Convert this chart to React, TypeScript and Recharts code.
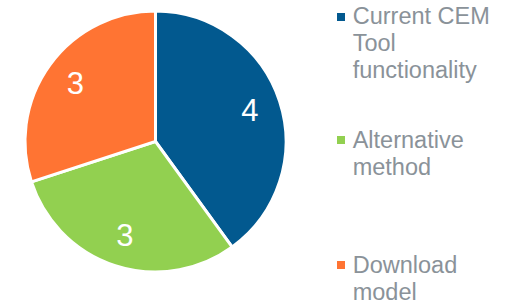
import { PieChart, Pie, Cell, Legend } from 'recharts'

const categories = ['Current CEM Tool functionality', 'Alternative method', 'Download model']
const counts = [4, 3, 3]
const colors = ['#02598F', '#92D050', '#FF7433']

const data = categories.map((name, i) => ({ name, value: counts[i] }))

const FONT = '"Liberation Sans", Arial, sans-serif'
const RADIAN = Math.PI / 180

const SliceLabel = (props: any) => {
  const { cx, cy, midAngle, outerRadius, value } = props
  const r = outerRadius * 0.76
  const x = cx + r * Math.cos(-midAngle * RADIAN)
  const y = cy + r * Math.sin(-midAngle * RADIAN)
  return (
    <text x={x} y={y} fill="#fff" fontSize={31} fontFamily={FONT} textAnchor="middle" dominantBaseline="central">
      {value}
    </text>
  )
}

// legend items sit at fixed tops like the original slide layout
const legendTops = [3.4, 126.7, 251.7]

const LegendContent = () => (
  <div style={{ position: 'relative', width: 180, height: 304 }}>
    {data.map((d, i) => (
      <div key={d.name} style={{ position: 'absolute', left: 0, top: legendTops[i], display: 'flex' }}>
        <div style={{ width: 8, height: 8, flex: 'none', background: colors[i], marginTop: 9.3, marginRight: 7.7 }} />
        <div style={{ width: 152, fontFamily: FONT, fontSize: 23.5, lineHeight: '27px', color: '#8A9299' }}>
          {d.name}
        </div>
      </div>
    ))}
  </div>
)

export default function App() {
  return (
    <div style={{ position: 'absolute', left: 0, top: 0, width: 508, height: 304, background: '#fff', overflow: 'hidden' }}>
      <PieChart width={508} height={304} margin={{ top: 0, right: 0, bottom: 0, left: 0 }}>
        <Pie
          data={data}
          dataKey="value"
          nameKey="name"
          cx={155.5}
          cy={141.5}
          outerRadius={130.5}
          startAngle={90}
          endAngle={-270}
          stroke="#fff"
          strokeWidth={3}
          label={SliceLabel}
          labelLine={false}
          isAnimationActive={false}
        >
          {data.map((d, i) => (
            <Cell key={d.name} fill={colors[i]} />
          ))}
        </Pie>
        <Legend
          layout="vertical"
          content={<LegendContent />}
          wrapperStyle={{ position: 'absolute', left: 337, top: 0, width: 180, height: 304 }}
        />
      </PieChart>
    </div>
  )
}
